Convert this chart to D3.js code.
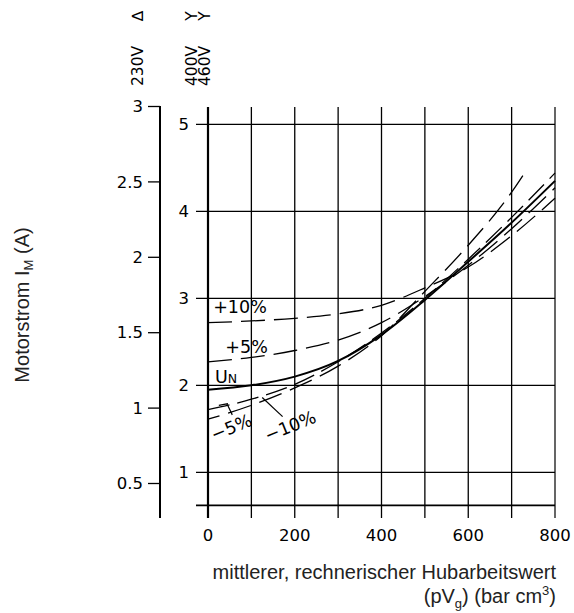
<!DOCTYPE html>
<html>
<head>
  <meta charset="utf-8">
  <title>Motorstrom</title>
  <script src="https://d3js.org/d3.v7.min.js"></script>
  <style>
    body { margin: 0; background: #fff; -webkit-font-smoothing: antialiased; }
    .tick text, .lbl { font-family: "DejaVu Sans", sans-serif; fill: #000; }
    .title { font-family: "Liberation Sans", Arial, sans-serif; }
  </style>
</head>
<body>
<svg id="chart" width="574" height="613"></svg>
<script>
// x values (mean work value, bar cm3)
const xs = [0, 100, 200, 300, 400, 500, 600, 700, 800];
const xsShort = [0, 100, 200, 300, 400, 500, 600, 700, 735];

// curves, read against the inner (right) scale
const un     = [1.95, 2.00, 2.10, 2.28, 2.58, 2.98, 3.42, 3.87, 4.35];
const plus5  = [2.27, 2.32, 2.40, 2.52, 2.72, 3.02, 3.38, 3.80, 4.27];
const plus10 = [2.72, 2.74, 2.77, 2.82, 2.92, 3.12, 3.36, 3.72, 4.15];
const minus5 = [1.72, 1.84, 2.01, 2.27, 2.60, 3.00, 3.45, 3.93, 4.44];
const minus10 = [1.61, 1.77, 1.97, 2.22, 2.57, 3.08, 3.61, 4.22, 4.48];

// axes
const xTicks = [0, 100, 200, 300, 400, 500, 600, 700, 800];
const xTickLabels = [0, 200, 400, 600, 800];
const rightTicks = [1, 2, 3, 4, 5];
const gridRows = [0.62, 1, 2, 3, 4, 5];
const leftTicks = [0.5, 1, 1.5, 2, 2.5, 3];
const voltLabels = ["230V", "400V", "460V"];
const voltSymbols = ["\u2206", "Y", "Y"];

const svg = d3.select("#chart");

const x = d3.scaleLinear().domain([0, 800]).range([208, 555]);
const yR = d3.scaleLinear().domain([1, 5]).range([472.3, 124.3]);
const yL = d3.scaleLinear().domain([0.5, 3]).range([483, 106]);
const yBottom = 518;

// vertical grid lines (extending below as ticks)
svg.append("g").selectAll("line")
  .data(xTicks)
  .join("line")
    .attr("x1", d => x(d)).attr("x2", d => x(d))
    .attr("y1", 107).attr("y2", yBottom)
    .attr("stroke", d => d == 800 ? "#555" : "#000")
    .attr("stroke-width", d => d == 0 ? 2.2 : (d == 800 ? 1.8 : 1.3));

// horizontal grid lines
svg.append("g").selectAll("line")
  .data(gridRows)
  .join("line")
    .attr("x1", 196).attr("x2", x(800))
    .attr("y1", d => yR(d)).attr("y2", d => yR(d))
    .attr("stroke", "#000")
    .attr("stroke-width", d => d < 1 ? 1.8 : 1.3);

// inner axis labels
svg.append("g").selectAll("text")
  .data(rightTicks)
  .join("text")
    .attr("class", "lbl")
    .attr("x", 189).attr("y", d => yR(d) + 6)
    .attr("text-anchor", "end")
    .attr("font-size", 16.5)
    .text(d => d);

// bottom labels
svg.append("g").selectAll("text")
  .data(xTickLabels)
  .join("text")
    .attr("class", "lbl")
    .attr("x", d => x(d)).attr("y", 541)
    .attr("text-anchor", "middle")
    .attr("font-size", 16.5)
    .text(d => d);

// left axis (amps)
const left = svg.append("g")
  .attr("transform", "translate(160,0)")
  .call(d3.axisLeft(yL).tickValues(leftTicks).tickSize(12).tickPadding(5)
    .tickFormat(d => d));
left.select(".domain").remove();
left.selectAll(".tick line").attr("stroke-width", 1.3);
left.selectAll(".tick text").attr("font-size", 16.5).attr("dy", "0.35em");
svg.append("line")
  .attr("x1", 160).attr("x2", 160)
  .attr("y1", yL(3)).attr("y2", yBottom)
  .attr("stroke", "#000").attr("stroke-width", 2);

// voltage labels (rotated)
const voltX = [137, 191, 204];
const volt = svg.append("g").selectAll("g")
  .data(voltLabels)
  .join("g")
    .attr("transform", (d, i) => `translate(${voltX[i]},86) rotate(-90)`);
volt.append("text")
  .attr("class", "lbl")
  .attr("font-size", 15.5)
  .attr("dy", "0.36em")
  .text(d => d);
volt.append("text")
  .attr("class", "lbl")
  .attr("x", 70)
  .attr("text-anchor", "middle")
  .attr("font-size", 15.5)
  .attr("dy", "0.36em")
  .text((d, i) => voltSymbols[i]);

// curves
const line = d3.line()
  .x(d => x(d[0]))
  .y(d => yR(d[1]))
  .curve(d3.curveMonotoneX);

const series = [
  { xv: xs, yv: plus10, dash: "24,9", w: 1.3 },
  { xv: xs, yv: plus5, dash: "24,9", w: 1.3 },
  { xv: xs, yv: minus5, dash: "22,8", w: 1.3 },
  { xv: xsShort, yv: minus10, dash: "24,9", w: 1.3, off: 12 },
  { xv: xs, yv: un, dash: null, w: 2 }
];
svg.append("g").selectAll("path")
  .data(series)
  .join("path")
    .attr("d", s => line(s.xv.map((v, i) => [v, s.yv[i]])))
    .attr("fill", "none")
    .attr("stroke", "#000")
    .attr("stroke-width", s => s.w)
    .attr("stroke-dasharray", s => s.dash)
    .attr("stroke-dashoffset", s => s.off || 0);

// curve labels
const tag = svg.append("g").attr("class", "lbl").attr("font-size", 17.5);
tag.append("text").attr("x", x(12)).attr("y", yR(2.83)).text("+10%");
tag.append("text").attr("x", x(40)).attr("y", yR(2.37)).text("+5%");
const unT = tag.append("text").attr("x", x(16)).attr("y", yR(2.03));
unT.append("tspan").text("U");
unT.append("tspan").attr("font-size", 12.5).text("N");
tag.append("text")
  .attr("transform", `translate(${x(14)},${yR(1.36)}) rotate(-22)`)
  .text("\u22125%");
tag.append("text")
  .attr("transform", `translate(${x(138)},${yR(1.35)}) rotate(-22)`)
  .text("\u221210%");

// leader lines
svg.append("path")
  .attr("d", `M${x(25)},${yR(1.77)} L${x(46)},${yR(1.79)} M${x(44)},${yR(1.785)} L${x(56)},${yR(1.66)}`)
  .attr("stroke", "#000").attr("stroke-width", 1.2).attr("fill", "none");
svg.append("line")
  .attr("x1", x(125)).attr("y1", yR(1.86))
  .attr("x2", x(172)).attr("y2", yR(1.64))
  .attr("stroke", "#000").attr("stroke-width", 1.2);

// axis titles
const yt = svg.append("text")
  .attr("class", "title")
  .attr("transform", "translate(29,305) rotate(-90)")
  .attr("text-anchor", "middle")
  .attr("font-size", 20)
  .attr("fill", "#222");
yt.append("tspan").text("Motorstrom I");
yt.append("tspan").attr("font-size", 13).attr("dy", 4).text("M");
yt.append("tspan").attr("dy", -4).text(" (A)");

svg.append("text")
  .attr("class", "title")
  .attr("x", 556).attr("y", 579)
  .attr("text-anchor", "end")
  .attr("font-size", 20)
  .attr("fill", "#222")
  .text("mittlerer, rechnerischer Hubarbeitswert");
const xt2 = svg.append("text")
  .attr("class", "title")
  .attr("x", 556).attr("y", 603)
  .attr("text-anchor", "end")
  .attr("font-size", 20)
  .attr("fill", "#222");
xt2.append("tspan").text("(pV");
xt2.append("tspan").attr("font-size", 13).attr("dy", 5).text("g");
xt2.append("tspan").attr("dy", -5).text(") (bar cm");
xt2.append("tspan").attr("font-size", 13).attr("dy", -8).text("3");
xt2.append("tspan").attr("dy", 8).text(")");
</script>
</body>
</html>
